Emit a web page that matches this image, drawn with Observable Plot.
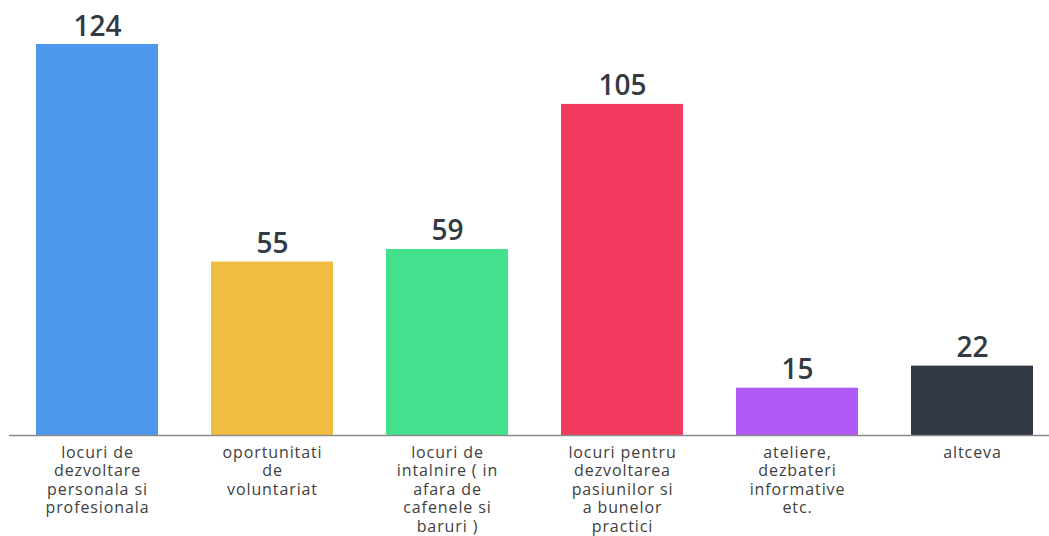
<!DOCTYPE html>
<html>
<head>
<meta charset="utf-8">
<script src="https://cdn.jsdelivr.net/npm/d3@7"></script>
<script src="https://cdn.jsdelivr.net/npm/@observablehq/plot@0.6"></script>
<style>
  html, body { margin: 0; padding: 0; background: #fff; }
  #chart svg { display: block; }
  .cats text { letter-spacing: 0.9px; }
</style>
</head>
<body>
<div id="chart"></div>
<script>
const categories = [
  "locuri de\ndezvoltare\npersonala si\nprofesionala",
  "oportunitati\nde\nvoluntariat",
  "locuri de\nintalnire ( in\nafara de\ncafenele si\nbaruri )",
  "locuri pentru\ndezvoltarea\npasiunilor si\na bunelor\npractici",
  "ateliere,\ndezbateri\ninformative\netc.",
  "altceva"
];
const values = [124, 55, 59, 105, 15, 22];
const colors = ["#4d97ec", "#f0bc42", "#43e08e", "#f23a5e", "#b05af5", "#333943"];

const data = categories.map((c, i) => ({cat: c, value: values[i], color: colors[i]}));

const chart = Plot.plot({
  width: 1049,
  height: 536,
  marginLeft: 9,
  marginRight: 0,
  marginTop: 44,
  marginBottom: 101,
  style: {fontFamily: "'Open Sans', sans-serif", background: "#fff"},
  x: {domain: categories, paddingInner: 0.304, paddingOuter: 0.1166, align: 0.62, axis: null},
  y: {domain: [0, 124], axis: null},
  marks: [
    Plot.barY(data, {x: "cat", y: "value", fill: "color"}),
    Plot.ruleY([0], {stroke: "#8a8a8a", strokeWidth: 1.5}),
    Plot.text(data, {x: "cat", y: "value", text: d => String(d.value), lineAnchor: "bottom", dy: -9,
      fontSize: 28, fontWeight: 600, fill: "#343a42"}),
    Plot.text(data, {x: "cat", y: 0, text: "cat", lineAnchor: "top", dy: 9, lineHeight: 1.16,
      fontSize: 16, fontWeight: 500, fill: "#404040", className: "cats"})
  ]
});
document.getElementById("chart").appendChild(chart);
</script>
</body>
</html>
